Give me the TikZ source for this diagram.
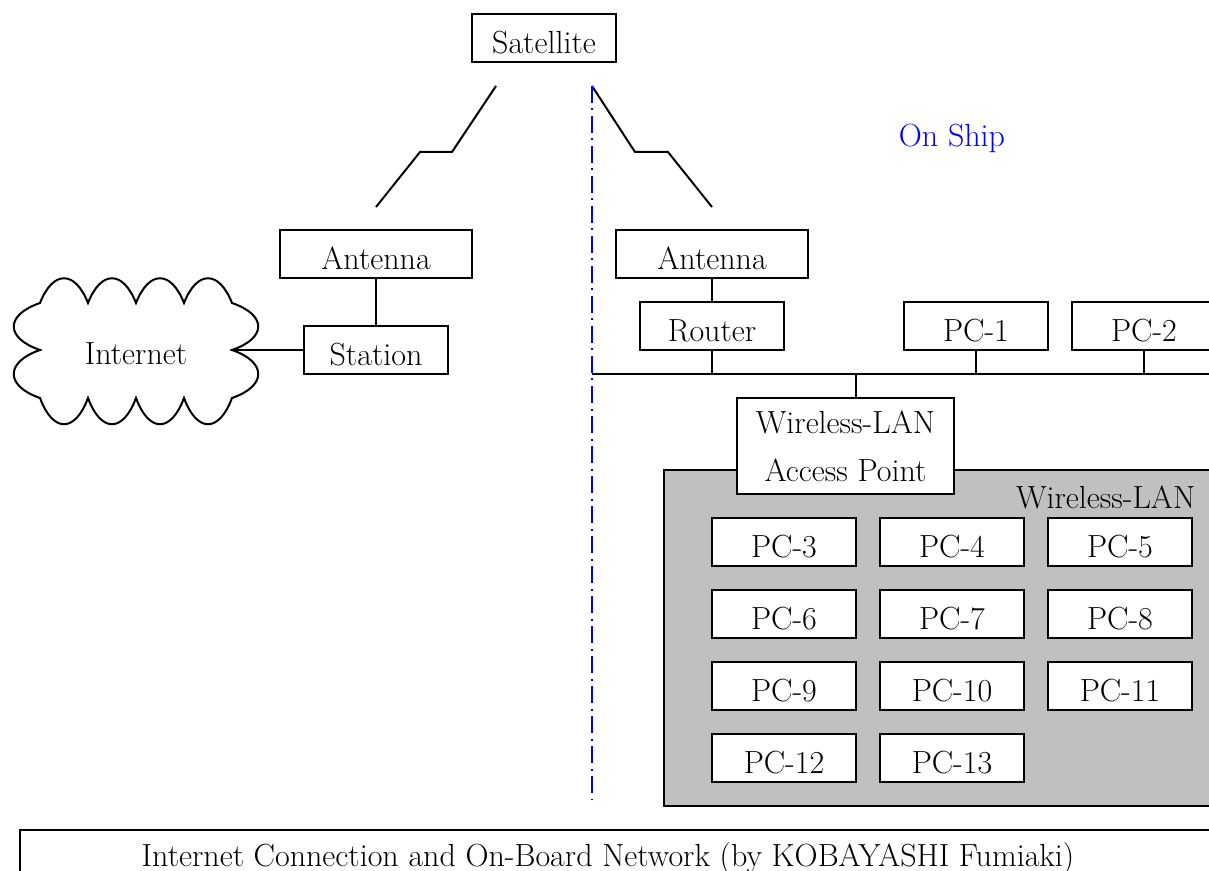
\documentclass[tikz,border=0pt]{standalone}
\usepackage{xcolor}
\usepackage{tikz}
\definecolor{wlangray}{RGB}{192,192,192}

\begin{document}
\begin{tikzpicture}
		[x=0.5pt,y=-0.5pt,line width=1pt,
		font=\fontsize{16}{24}\selectfont,
		box/.style={draw,fill=white,minimum width=72pt,minimum height=24pt,inner sep=0pt,
			text height=15.5pt,text depth=0pt},
		antbox/.style={box,minimum width=96pt},
		apbox/.style={draw,fill=white,minimum width=108.5pt,minimum height=48pt,inner sep=0pt,align=center},
		shipline/.style={blue,dash pattern=on 8.5pt off 2.75pt on 1pt off 2.75pt}]
		\useasboundingbox (0,0) rectangle (1209,871);
		\draw[fill=wlangray] (664,470) rectangle (1240,806);
		\node[box] (sat) at (544,38) {Satellite};
		\node[antbox] (antL) at (376,254) {Antenna};
		\node[box] (stat) at (376,350) {Station};
		\node[antbox] (antR) at (712,254) {Antenna};
		\node[box] (rtr) at (712,326) {Router};
		\node[box] (pc1) at (976,326) {PC-1};
		\node[box] (pc2) at (1144,326) {PC-2};
		\node[apbox] (ap) at (845.5,446) {Wireless-LAN\\Access Point};
		\node[anchor=east] (wlan) at (1203,497) {Wireless-LAN};
		\foreach \n/\xx/\yy in {3/784/542,4/952/542,5/1120/542,
				6/784/614,7/952/614,8/1120/614,
				9/784/686,10/952/686,11/1120/686,
				12/784/758,13/952/758}
			\node[box] (pc\n) at (\xx,\yy) {PC-\n};
		\node[blue] (ship) at (952,138) {On Ship};
		\node (inet) at (136,354) {Internet};
		\draw (40,303) .. controls +(13,-33) and +(-13,-33) .. (88,303)
			.. controls +(13,-33) and +(-13,-33) .. (136,303)
			.. controls +(13,-33) and +(-13,-33) .. (184,303)
			.. controls +(13,-33) and +(-13,-33) .. (232,303)
			.. controls +(35,12) and +(35,-12) .. (232,350)
			.. controls +(35,12) and +(35,-12) .. (232,398)
			.. controls +(-13,35) and +(13,35) .. (184,398)
			.. controls +(-13,35) and +(13,35) .. (136,398)
			.. controls +(-13,35) and +(13,35) .. (88,398)
			.. controls +(-13,35) and +(13,35) .. (40,398)
			.. controls +(-35,-12) and +(-35,12) .. (40,350)
			.. controls +(-35,-12) and +(-35,12) .. (40,303) -- cycle;
		\coordinate (cloudR) at (232,350);
		\coordinate (upL) at (496,86);
		\coordinate (upR) at (592,86);
		\coordinate (shipB) at (592,800);
		\coordinate (busW) at (592,374);
		\coordinate (busE) at (1215,374);
		\coordinate (apTap) at (856,374);
		\draw (upL) -- ++(-44,66) -- ++(-32,0) -- ++(-44,55);
		\draw (upR) -- ++(43,66) -- ++(33,0) -- ++(44,55);
		\draw[shipline] (upR) -- (shipB);
		\draw (cloudR) -- (stat.west);
		\draw (antL.south) -- (stat.north);
		\draw (antR.south) -- (rtr.north);
		\draw (busW) -- (busE);
		\draw (rtr.south) -- (rtr.south |- busW);
		\draw (pc1.south) -- (pc1.south |- busW);
		\draw (pc2.south) -- (pc2.south |- busW);
		\draw (apTap) -- (apTap |- ap.north);
		\draw (20,830) rectangle (1240,900);
		\node (cap) at (608,859) {Internet Connection and On-Board Network (by KOBAYASHI Fumiaki)};
\end{tikzpicture}
\end{document}
